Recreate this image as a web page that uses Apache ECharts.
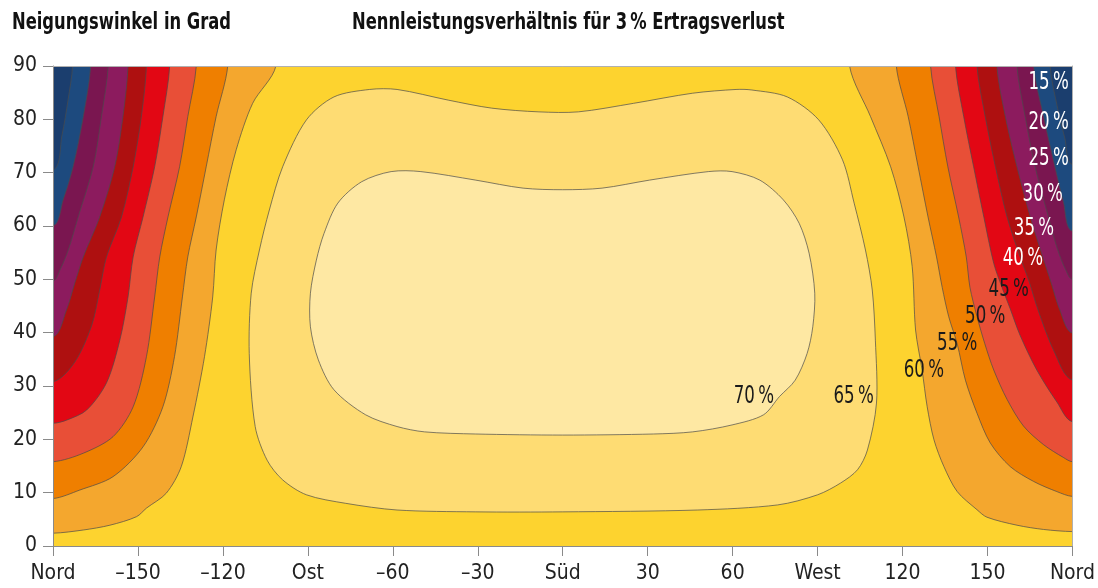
<!DOCTYPE html>
<html>
<head>
<meta charset="utf-8">
<script src="https://cdn.jsdelivr.net/npm/echarts@6/dist/echarts.min.js"></script>
<style>
html,body{margin:0;padding:0;background:#ffffff;}
#chart{width:1098px;height:588px;}
</style>
</head>
<body>
<div id="chart"></div>
<script>
// ---------- data (azimuth in degrees, tilt in degrees) ----------
const xTickValues = [-180,-150,-120,-90,-60,-30,0,30,60,90,120,150,180];
const xTickLabels = ['Nord','\u2013150','\u2013120','Ost','\u201360','\u201330','Süd','30','60','West','120','150','Nord'];

// contour lines bounding the two northern corners (West = left, East = right)
const c20W = [[-173.1,90],[-174.7,83.6],[-176.8,77.1],[-180,70.5]];
const c20E = [[172.1,90],[174.8,82],[177.3,76.5],[180,71.5]];
const c25W = [[-166.7,90],[-169.3,80.5],[-172.9,71.1],[-176.4,64.9],[-180,60]];
const c25E = [[166.3,90],[169.8,80.5],[173.8,71.1],[176.8,64.5],[180,59]];
const c30W = [[-160.5,90],[-162.9,80.5],[-165.8,71.1],[-171.1,61.7],[-174.6,55.5],[-177.5,51.8],[-180,49.7]];
const c30E = [[160.4,90],[163.3,80.5],[166.8,71.1],[171.5,61.7],[174.8,55.5],[177.6,51.8],[180,50]];
const c35W = [[-153.5,90],[-155.3,80.5],[-158.2,71.1],[-163.5,61.7],[-169.3,54.2],[-172.3,49.3],[-175.2,44.3],[-180,39.2]];
const c35E = [[153.3,90],[156.3,80.5],[160.4,71.1],[165.1,61.7],[169.5,54.2],[172.5,49.3],[175.5,44.3],[180,39.9]];
const c40W = [[-147,90],[-148.8,80.5],[-151.7,71.1],[-155.8,61.7],[-161.1,54.2],[-163.5,48],[-166.3,41.4],[-172.3,34.5],[-180,30.8]];
const c40E = [[146.3,90],[149.2,80.5],[152.8,71.1],[156.9,61.7],[161.5,54.2],[164.5,49.9],[168,44],[173.5,36.5],[180,31.1]];
const c45W = [[-138.8,90],[-141.2,80.5],[-144.1,71.1],[-148.2,61.7],[-151.7,54.2],[-153.5,46.7],[-156.4,38.6],[-161.1,30.6],[-168.1,25.5],[-175.2,23.6],[-180,23]];
const c45E = [[138.7,90],[141.6,80.5],[145.1,71.1],[148.7,61.7],[152.2,53],[155.1,48.5],[158,44.5],[161.5,39.5],[167.4,33],[174.5,27],[180,23.3]];
const c50W = [[-129.4,90],[-132.4,80.5],[-135.3,71.1],[-139.4,61.7],[-142.3,54.2],[-144.1,46.7],[-147,35.5],[-151.7,26.1],[-158.8,20.5],[-169.3,17.4],[-180,15.8]];
const c50E = [[129.9,90],[132.9,80.5],[136,71.1],[139.8,61.7],[142.5,54.2],[143.8,48.5],[146.3,43],[149,38],[152.2,33],[156.9,27.5],[162.7,22.5],[169.8,19],[176.8,16.6],[180,15.8]];
const c55W = [[-118.3,90],[-122.4,80.5],[-125.9,71.1],[-129.4,61.7],[-132.4,54.2],[-134.3,46.7],[-137.1,35.5],[-141.2,26.1],[-148.2,18.6],[-158.8,13],[-170.5,10.5],[-180,8.9]];
const c55E = [[117.8,90],[122,80.5],[125.5,71.1],[129,61.7],[132,54.2],[134,48.5],[136.3,43],[139.3,37.9],[142.2,31.1],[146.3,24.9],[151,19.3],[158,14.9],[166.3,12.1],[174.5,10.2],[180,9.3]];
const c60W = [[-101.3,90],[-109.5,83],[-115.3,74.3],[-119.5,64.9],[-122.4,55.5],[-123.6,46.7],[-126.5,35.5],[-130.6,24.2],[-134.7,14.9],[-140,9.9],[-147,7.1],[-150.5,5.5],[-159.9,3.9],[-169.3,3],[-180,2.4]];
const c60E = [[101.3,90],[108.7,80.5],[115.8,71.1],[120.5,61.7],[123.4,52.4],[124.6,40.5],[126.9,33],[128.7,26.1],[131.1,19.9],[134.6,14.9],[139.3,10.2],[146.3,6.8],[149.8,5.4],[160.4,3.9],[169.8,3.1],[180,2.7]];

// closed contours in the southern centre
const c65 = [[-90.5,79.9],[-80.8,84.2],[-68.2,85.6],[-58.5,85.6],[-40.4,83.6],[-25.1,82.1],[-8.4,81.4],[5.5,81.4],[25,83],[45.9,84.9],[61.2,85.6],[66.8,85.5],[79.3,84.2],[90.4,79.9],[98.8,72.4],[102.9,64.3],[106.9,55.5],[109.3,48],[110.4,38.6],[110.8,26.8],[107.6,18],[104.1,14.3],[98.1,11.8],[90,9.6],[75.9,7.7],[47.7,6.75],[0,6.4],[-30.7,6.4],[-58.5,6.75],[-76.6,8],[-90.5,9.6],[-98.9,12.4],[-104.4,16.1],[-108.6,22.4],[-110.7,36.1],[-110,47.4],[-107.1,55.5],[-103.6,63],[-98.9,71.1]];
const c70 = [[-60.6,70.2],[-50.1,70.2],[-30.7,68.6],[-14,67.1],[0,66.8],[13.9,67.1],[30.6,68.6],[51.4,70.2],[59.8,70.2],[69.6,68.6],[77.9,64.9],[83.5,60.5],[87,54.9],[89,47.4],[88.3,41.1],[86.3,36.1],[82.1,31.1],[76.5,28],[70.9,24.6],[59.8,22.7],[45.9,21.4],[32,21],[0,20.8],[-30.7,21],[-48.8,21.4],[-58.5,22.4],[-69.6,24.6],[-80.8,29.3],[-86.3,34.9],[-89.1,41.1],[-89.1,47.4],[-87,53.6],[-84.3,58.6],[-79.4,64.3],[-71,68.3]];

// contour labels
const labelTexts = ['15\u2009%','20\u2009%','25\u2009%','30\u2009%','35\u2009%','40\u2009%','45\u2009%','50\u2009%','55\u2009%','60\u2009%','65\u2009%','70\u2009%'];
const labelAz    = [171.6,171.6,171.6,169.5,166.4,162.5,157.5,149.2,139.3,127.5,102.7,67.5];
const labelTilt  = [87,79.5,72.6,66,59.6,54,48.1,43,38,33,28.1,28.1];

// ---------- styles ----------
// bands: 15-20, 20-25, 25-30, 30-35, 35-40, 40-45, 45-50, 50-55, 55-60, 60-65, 65-70, >70
const bandColors = ['#1B3E6E','#1D4A7E','#7A1650','#8C1B5E','#AE1010','#E20714','#E84F37','#EF7F00','#F4A72E','#FDD32F','#FEDC73','#FEE8A3'];
const labelColors = ['#ffffff','#ffffff','#ffffff','#ffffff','#ffffff','#ffffff','#1a1a1a','#1a1a1a','#1a1a1a','#1a1a1a','#1a1a1a','#1a1a1a'];

const cornerPairs = [[60,c60W,c60E],[55,c55W,c55E],[50,c50W,c50E],[45,c45W,c45E],[40,c40W,c40E],[35,c35W,c35E],[30,c30W,c30E],[25,c25W,c25E],[20,c20W,c20E]];
const shapes = [];
cornerPairs.forEach(function(p){
  const col = bandColors[(p[0]-20)/5];
  shapes.push({kind:'W', line:p[1], color:col});
  shapes.push({kind:'E', line:p[2], color:col});
});
shapes.push({kind:'C', line:c65, color:bandColors[10]});
shapes.push({kind:'C', line:c70, color:bandColors[11]});

function renderItem(params, api){
  const s = shapes[params.dataIndex];
  const cs = params.coordSys;
  const pts = s.line.map(function(p){ return api.coord(p); });
  let poly = pts;
  const out = 80;
  if (s.kind === 'W') {
    const f = pts[0], l = pts[pts.length-1];
    poly = pts.concat([[cs.x-out, l[1]],[cs.x-out, cs.y-out],[f[0], cs.y-out]]);
  } else if (s.kind === 'E') {
    const f = pts[0], l = pts[pts.length-1];
    poly = pts.concat([[cs.x+cs.width+out, l[1]],[cs.x+cs.width+out, cs.y-out],[f[0], cs.y-out]]);
  }
  return {
    type:'polygon',
    shape:{points:poly, smooth:0.3},
    style:{fill:s.color, stroke:'#4a4a4a', lineWidth:0.7}
  };
}

const FONT = '"DejaVu Sans Condensed", "Liberation Sans Narrow", sans-serif';

function renderLabel(params, api){
  const i = params.dataIndex;
  const pt = api.coord([api.value(0), api.value(1)]);
  return {
    type:'text', x:pt[0], y:pt[1], scaleX:0.74,
    style:{text:labelTexts[i], fill:labelColors[i], font:'25px ' + FONT, textAlign:'center', textVerticalAlign:'middle'}
  };
}

const chart = echarts.init(document.getElementById('chart'), null, {renderer:'canvas'});
chart.setOption({
  animation:false,
  backgroundColor:'#ffffff',
  graphic:[
    {type:'text', x:12, y:12, scaleX:0.79, style:{text:'Neigungswinkel in Grad', font:'bold 23px ' + FONT, fill:'#111', textVerticalAlign:'top'}},
    {type:'text', x:352, y:12, scaleX:0.79, style:{text:'Nennleistungsverhältnis für 3\u2009% Ertragsverlust', font:'bold 23px ' + FONT, fill:'#111', textVerticalAlign:'top'}}
  ],
  grid:{left:53, right:22, top:66, bottom:42, show:true, backgroundColor:bandColors[9], borderWidth:0},
  xAxis:[
    {type:'value', min:-180, max:180, interval:30, z:10,
     axisLine:{show:true, onZero:false, lineStyle:{color:'#8a8a8a', width:1}},
     axisTick:{show:true, length:10, lineStyle:{color:'#8a8a8a'}},
     splitLine:{show:false},
     axisLabel:{margin:17, fontFamily:FONT, fontSize:21, color:'#222',
       formatter:function(v){ const i = xTickValues.indexOf(v); return i>=0 ? xTickLabels[i] : ''; }}},
    {type:'value', min:-180, max:180, position:'top', z:10,
     axisLine:{show:true, onZero:false, lineStyle:{color:'#b0b0b0', width:1}},
     axisTick:{show:false}, axisLabel:{show:false}, splitLine:{show:false}}
  ],
  yAxis:[
    {type:'value', min:0, max:90, interval:10, z:10,
     axisLine:{show:true, onZero:false, lineStyle:{color:'#8a8a8a', width:1}},
     axisTick:{show:true, length:10, lineStyle:{color:'#8a8a8a'}},
     splitLine:{show:false},
     axisLabel:{margin:16, fontFamily:FONT, fontSize:21, color:'#222'}},
    {type:'value', min:0, max:90, position:'right', z:10,
     axisLine:{show:true, onZero:false, lineStyle:{color:'#b0b0b0', width:1}},
     axisTick:{show:false}, axisLabel:{show:false}, splitLine:{show:false}}
  ],
  series:[
    {type:'custom', renderItem:renderItem, clip:true, z:2,
     xAxisIndex:0, yAxisIndex:0,
     encode:{x:0, y:1},
     data:shapes.map(function(s,i){ return [0,45,i]; }),
     silent:true},
    {type:'custom', renderItem:renderLabel, z:5,
     xAxisIndex:0, yAxisIndex:0,
     encode:{x:0, y:1},
     data:labelTexts.map(function(t,i){ return [labelAz[i], labelTilt[i]]; }),
     silent:true}
  ]
});
</script>
</body>
</html>
